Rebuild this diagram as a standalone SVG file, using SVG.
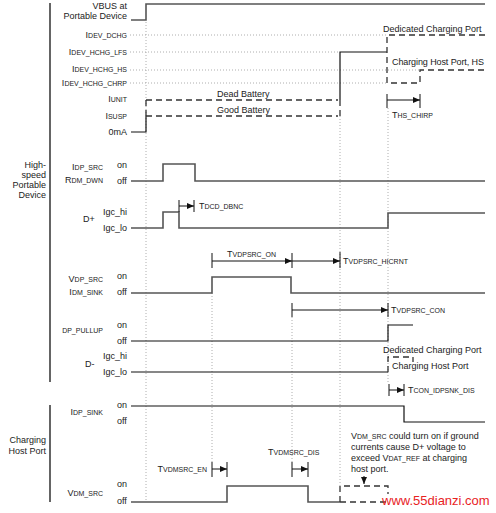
<svg xmlns="http://www.w3.org/2000/svg" width="496" height="513" viewBox="0 0 496 513">
<defs>
<style>
.t{font-family:"Liberation Sans",Arial,sans-serif;font-size:9px;fill:#222}
.e{text-anchor:end}
.s{font-size:7px}
.tr{fill:none;stroke:#555;stroke-width:1.6}
.tk{fill:none;stroke:#111;stroke-width:1.2}
.da{fill:none;stroke:#333;stroke-width:1.3;stroke-dasharray:6 4}
.dt{fill:none;stroke:#999;stroke-width:0.8;stroke-dasharray:1 2}
.ti{stroke:#111;stroke-width:1}
.ar{stroke:#111;stroke-width:1;marker-end:url(#ah)}
.bar{stroke:#111;stroke-width:1.3}
</style>
<marker id="ah" markerWidth="7" markerHeight="6" refX="7" refY="3" orient="auto" markerUnits="userSpaceOnUse">
<path d="M0,0 L7,3 L0,6 z" fill="#111"/>
</marker>
</defs>
<rect width="496" height="513" fill="#fff"/>

<g id="grid">
<line class="dt" x1="130" y1="35" x2="387" y2="35"/>
<line class="dt" x1="130" y1="52" x2="340" y2="52"/>
<line class="dt" x1="130" y1="70" x2="420" y2="70"/>
<line class="dt" x1="130" y1="83" x2="387" y2="83"/>
<line class="dt" x1="146" y1="22" x2="146" y2="500"/>
<line class="dt" x1="212" y1="293" x2="212" y2="462"/>
<line class="dt" x1="292" y1="317" x2="292" y2="462"/>
<line class="dt" x1="340" y1="116" x2="340" y2="486"/>
<line class="dt" x1="388" y1="108" x2="388" y2="384"/>
</g>

<g id="group-labels">
<line class="bar" x1="50" y1="3" x2="50" y2="382"/>
<line class="bar" x1="50" y1="405" x2="50" y2="502"/>
<text class="t e" x="46" y="168">High-</text>
<text class="t e" x="46" y="178">speed</text>
<text class="t e" x="46" y="188">Portable</text>
<text class="t e" x="46" y="198">Device</text>
<text class="t e" x="46" y="443">Charging</text>
<text class="t e" x="46" y="454">Host Port</text>
</g>

<g id="vbus">
<text class="t e" x="127" y="9">VBUS at</text>
<text class="t e" x="127" y="19">Portable Device</text>
<path class="tr" d="M131,20 H146 V4 H485"/>
</g>

<g id="current-levels">
<text class="t e" x="127" y="38">I<tspan class="s">DEV_DCHG</tspan></text>
<text class="t e" x="127" y="55">I<tspan class="s">DEV_HCHG_LFS</tspan></text>
<text class="t e" x="127" y="72">I<tspan class="s">DEV_HCHG_HS</tspan></text>
<text class="t e" x="127" y="86">I<tspan class="s">DEV_HCHG_CHRP</tspan></text>
<text class="t e" x="127" y="102">I<tspan class="s">UNIT</tspan></text>
<text class="t e" x="127" y="119">I<tspan class="s">SUSP</tspan></text>
<text class="t e" x="127" y="135">0mA</text>
<path class="tk" d="M131,132 H146 V116"/>
<path class="da" d="M146,116 V100"/>
<path class="da" d="M146,100 H338"/>
<path class="da" d="M146,116 H338"/>
<path class="da" d="M340,116 V100"/>
<path class="tk" d="M340,100 V52 H387"/>
<path class="da" d="M485,35 H387 V83 H420 V70 H485"/>
<text class="t" x="217" y="97">Dead Battery</text>
<text class="t" x="217" y="113">Good Battery</text>
<text class="t" x="383" y="32">Dedicated Charging Port</text>
<text class="t" x="392" y="65" textLength="92">Charging Host Port, HS</text>
</g>

<g id="idp-src">
<text class="t e" x="103" y="170">I<tspan class="s">DP_SRC</tspan></text>
<text class="t e" x="103" y="183">R<tspan class="s">DM_DWN</tspan></text>
<text class="t" x="117" y="168">on</text>
<text class="t" x="117" y="184">off</text>
<path class="tr" d="M131,181 H163 V164 H195 V181 H485"/>
</g>

<g id="dplus">
<text class="t" x="83" y="222">D+</text>
<text class="t e" x="127" y="215">Igc_hi</text>
<text class="t e" x="127" y="231">Igc_lo</text>
<path class="tr" d="M131,228 H163 V212 H179 V228 H388 V213 H485"/>
</g>

<g id="vdp-src">
<text class="t e" x="103" y="282">V<tspan class="s">DP_SRC</tspan></text>
<text class="t e" x="103" y="295">I<tspan class="s">DM_SINK</tspan></text>
<text class="t" x="117" y="279">on</text>
<text class="t" x="117" y="295">off</text>
<path class="tr" d="M131,293 H212 V277 H291 V293 H485"/>
</g>

<g id="dp-pullup">
<text class="t e s" x="103" y="333">DP_PULLUP</text>
<text class="t" x="117" y="328">on</text>
<text class="t" x="117" y="344">off</text>
<path class="tk" d="M131,341 H388 V325 H413"/>
</g>

<g id="dminus">
<text class="t" x="85" y="367">D-</text>
<text class="t e" x="127" y="359">Igc_hi</text>
<text class="t e" x="127" y="375">Igc_lo</text>
<path class="tk" d="M131,372 H388"/>
<path class="da" d="M388,372 V357 H413 V362"/>
<text class="t" x="383" y="353">Dedicated Charging Port</text>
<text class="t" x="392" y="369">Charging Host Port</text>
</g>

<g id="idp-sink">
<text class="t e" x="103" y="415">I<tspan class="s">DP_SINK</tspan></text>
<text class="t" x="117" y="408">on</text>
<text class="t" x="117" y="424">off</text>
<path class="tk" d="M131,406 H404 V422 H485"/>
</g>

<g id="vdm-src">
<text class="t e" x="103" y="496">V<tspan class="s">DM_SRC</tspan></text>
<text class="t" x="117" y="487">on</text>
<text class="t" x="117" y="504">off</text>
<path class="tr" d="M131,502 H227 V486 H308 V502 H340"/>
<path class="da" d="M340,502 V486 H388 V494"/>
<path class="da" d="M340,502 H388"/>
<text class="t" x="351" y="439">V<tspan class="s">DM_SRC</tspan> could turn on if ground</text>
<text class="t" x="351" y="450">currents cause D+ voltage to</text>
<text class="t" x="351" y="461">exceed V<tspan class="s">DAT_REF</tspan> at charging</text>
<text class="t" x="351" y="472">host port.</text>
<line class="ar" x1="364" y1="476" x2="364" y2="484"/>
</g>

<g id="connectors">
<line class="ti" x1="179" y1="200" x2="179" y2="212"/>
<line class="ti" x1="194" y1="200" x2="194" y2="212"/>
<line class="ar" x1="179" y1="206" x2="194" y2="206"/>
<text class="t" x="199" y="209">T<tspan class="s">DCD_DBNC</tspan></text>

<line class="ti" x1="212" y1="253" x2="212" y2="268"/>
<line class="ti" x1="292" y1="253" x2="292" y2="268"/>
<line class="ti" x1="340" y1="252" x2="340" y2="268"/>
<line class="ar" x1="212" y1="261" x2="292" y2="261"/>
<line class="ar" x1="292" y1="261" x2="340" y2="261"/>
<text class="t" x="227" y="257">T<tspan class="s">VDPSRC_ON</tspan></text>
<text class="t" x="343" y="264">T<tspan class="s">VDPSRC_HICRNT</tspan></text>

<line class="ti" x1="292" y1="303" x2="292" y2="317"/>
<line class="ti" x1="388" y1="303" x2="388" y2="317"/>
<line class="ar" x1="292" y1="310" x2="388" y2="310"/>
<text class="t" x="391" y="313">T<tspan class="s">VDPSRC_CON</tspan></text>

<line class="ti" x1="387" y1="94" x2="387" y2="108"/>
<line class="ti" x1="420" y1="94" x2="420" y2="108"/>
<line class="ar" x1="387" y1="100" x2="420" y2="100"/>
<text class="t" x="392" y="118">T<tspan class="s">HS_CHIRP</tspan></text>

<line class="ti" x1="389" y1="384" x2="389" y2="396"/>
<line class="ti" x1="404" y1="384" x2="404" y2="396"/>
<line class="ar" x1="389" y1="390" x2="404" y2="390"/>
<text class="t" x="408" y="393">T<tspan class="s">CON_IDPSNK_DIS</tspan></text>

<line class="ti" x1="212" y1="462" x2="212" y2="477"/>
<line class="ti" x1="227" y1="462" x2="227" y2="477"/>
<line class="ar" x1="212" y1="469" x2="227" y2="469"/>
<text class="t e" x="207" y="472">T<tspan class="s">VDMSRC_EN</tspan></text>

<line class="ti" x1="292" y1="462" x2="292" y2="477"/>
<line class="ti" x1="308" y1="462" x2="308" y2="477"/>
<line class="ar" x1="292" y1="469" x2="308" y2="469"/>
<text class="t" x="268" y="455">T<tspan class="s">VDMSRC_DIS</tspan></text>
</g>

<text x="382" y="505" font-family="Liberation Sans, Arial, sans-serif" font-size="13" fill="#e8231f">www.55dianzi.com</text>
</svg>
